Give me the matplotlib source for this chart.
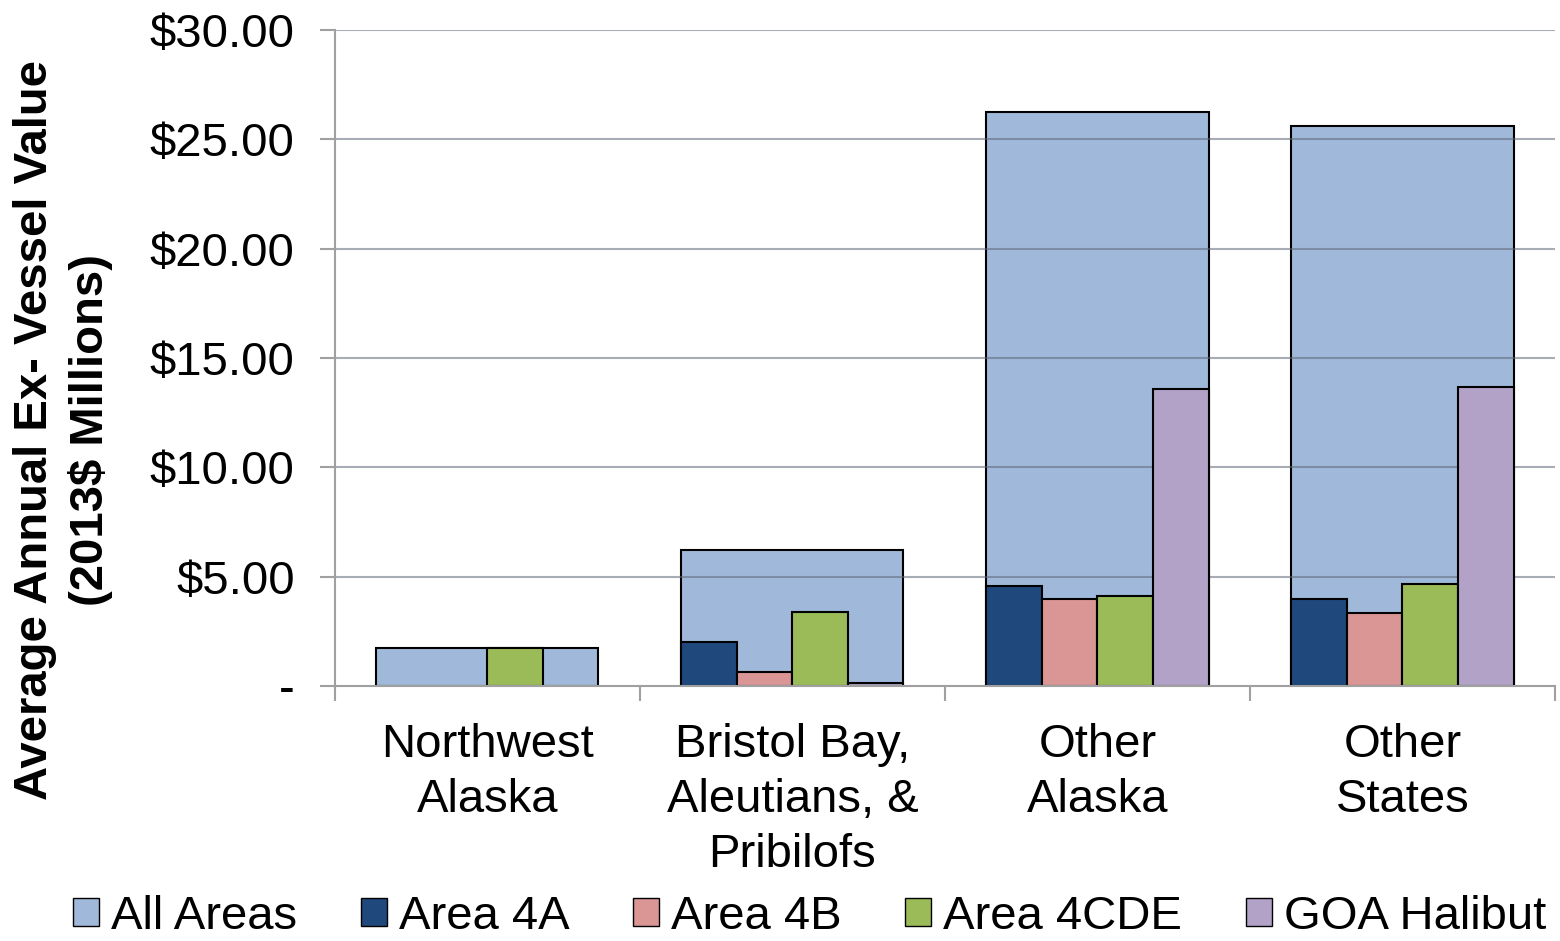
import numpy as np
import matplotlib.pyplot as plt
from matplotlib.patches import Patch
from matplotlib.ticker import FixedLocator, FuncFormatter

plt.rcParams["font.family"] = ["Liberation Sans", "DejaVu Sans"]

# ----- Data ($ millions, 2013 dollars) -----
regions = ["Northwest\nAlaska", "Bristol Bay,\nAleutians, &\nPribilofs",
           "Other\nAlaska", "Other\nStates"]
all_areas = [1.75, 6.22, 26.25, 25.6]
area_4a = [0.0, 2.0, 4.57, 3.98]
area_4b = [0.0, 0.64, 3.98, 3.34]
area_4cde = [1.75, 3.38, 4.12, 4.66]
goa_halibut = [0.0, 0.14, 13.58, 13.67]

series = [("Area 4A", area_4a, "#1f497d"),
          ("Area 4B", area_4b, "#d99694"),
          ("Area 4CDE", area_4cde, "#9bbb59"),
          ("GOA Halibut", goa_halibut, "#b2a2c7")]
all_color = "#a0b9da"

FS = 34
x = np.arange(len(regions))
wide = 0.728
narrow = wide / 4

fig = plt.figure(figsize=(15.6, 9.41), dpi=100)
ax = fig.add_axes([0.2147, 0.271, 0.9968 - 0.2147, 0.968 - 0.271])

ax.bar(x, all_areas, width=wide, color=all_color, edgecolor="black",
       linewidth=1.5, zorder=1)

# gridlines sit above the wide bar but under the narrow ones
for v in np.arange(5, 31, 5):
    ax.axhline(v, color="#606878", alpha=0.55, linewidth=1.5, zorder=1.5)

offsets = (np.arange(4) - 1.5) * narrow
for (name, vals, col), off in zip(series, offsets):
    vals = np.array(vals)
    keep = vals > 0
    ax.bar(x[keep] + off, vals[keep], width=narrow, color=col,
           edgecolor="black", linewidth=1.5, zorder=2)

ax.set_xlim(-0.5, len(regions) - 0.5)
ax.set_ylim(0, 30)

for side in ["top", "right"]:
    ax.spines[side].set_visible(False)
for side in ["left", "bottom"]:
    ax.spines[side].set_color("#a0a0a0")
    ax.spines[side].set_linewidth(1.5)
ax.spines["bottom"].set_zorder(3)

ax.set_yticks(np.arange(0, 31, 5))
ax.yaxis.set_major_formatter(FuncFormatter(
    lambda v, p: "-" if v == 0 else f"${v:.2f}"))
ax.tick_params(axis="y", length=11, width=1.5, color="#a0a0a0",
               labelsize=FS, pad=18)

ax.xaxis.set_major_locator(FixedLocator(np.arange(-0.5, len(regions), 1.0)))
ax.xaxis.set_minor_locator(FixedLocator(x))
ax.xaxis.set_major_formatter(FuncFormatter(lambda v, p: ""))
ax.set_xticklabels(regions, minor=True)
ax.tick_params(axis="x", which="major", length=11, width=1.5,
               color="#a0a0a0")
ax.tick_params(axis="x", which="minor", length=0, labelsize=FS, pad=27)
for t in ax.get_xticklabels(minor=True):
    t.set_linespacing(1.32)

fig.text(0.0405, 0.543, "Average Annual Ex- Vessel Value\n(2013$ Millions)",
         rotation=90, ha="center", va="center", fontsize=FS,
         fontweight="bold", linespacing=1.3)

handles = [Patch(facecolor=all_color, edgecolor="black", label="All Areas")]
handles += [Patch(facecolor=c, edgecolor="black", label=n) for n, _, c in series]
fig.legend(handles=handles, loc="center", bbox_to_anchor=(0.519, 0.026),
           ncol=5, frameon=False, fontsize=FS, handlelength=0.55,
           handleheight=0.55, handletextpad=0.25, columnspacing=1.35,
           borderaxespad=0, borderpad=0)

fig.savefig("out.png", dpi=100)
